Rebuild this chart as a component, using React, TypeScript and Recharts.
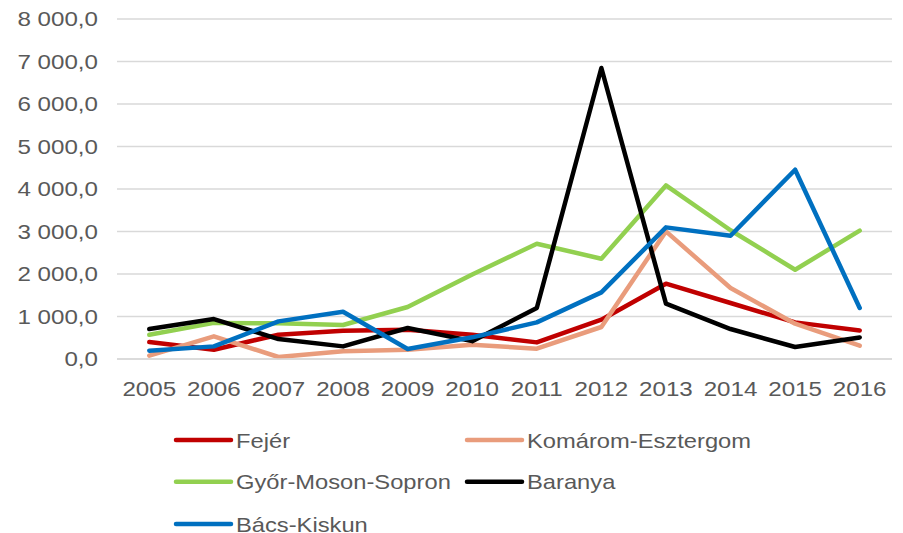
import React from "react";
import { LineChart, Line, XAxis, YAxis, CartesianGrid, Legend } from "recharts";

const years = ["2005", "2006", "2007", "2008", "2009", "2010", "2011", "2012", "2013", "2014", "2015", "2016"];
const fejer = [400, 219, 572, 665, 690, 572, 391, 925, 1772, 1318, 862, 673];
const komarom = [78, 533, 47, 180, 219, 337, 242, 753, 3003, 1670, 830, 313];
const gyor = [570, 850, 840, 800, 1223, 1990, 2713, 2360, 4085, 3030, 2101, 3019];
const baranya = [705, 940, 470, 297, 730, 420, 1200, 6847, 1301, 705, 282, 508];
const bacs = [195, 297, 885, 1113, 235, 510, 862, 1567, 3097, 2901, 4454, 1200];
const yTicks = [0, 1000, 2000, 3000, 4000, 5000, 6000, 7000, 8000];

const seriesNames = ["Fejér", "Komárom-Esztergom", "Győr-Moson-Sopron", "Baranya", "Bács-Kiskun"];
const seriesKeys = ["fejer", "komarom", "gyor", "baranya", "bacs"];
const seriesColors = ["#C00000", "#E99C7C", "#92D050", "#000000", "#0070C0"];
const seriesValues = [fejer, komarom, gyor, baranya, bacs];

const data = years.map((y, i) => {
  const row: any = { year: y };
  seriesKeys.forEach((k, s) => {
    row[k] = seriesValues[s][i];
  });
  return row;
});

const FONT = "'Liberation Sans', Arial, sans-serif";
const TEXT = "#595959";

const fmt = (v: number) => {
  const s = Math.round(v).toString().replace(/\B(?=(\d{3})+(?!\d))/g, " ");
  return s + ",0";
};

const XTick = (props: any) => {
  const { x, y, payload } = props;
  return (
    <g transform={`translate(${x},${y})`}>
      <text transform="scale(1.15,1)" x={0} y={0} dy="0.71em" textAnchor="middle" fontSize={21} fontFamily={FONT} fill={TEXT}>
        {payload.value}
      </text>
    </g>
  );
};

const YTick = (props: any) => {
  const { x, y, payload } = props;
  return (
    <g transform={`translate(${x},${y})`}>
      <text transform="scale(1.15,1)" x={0} y={0} dy="0.355em" textAnchor="end" fontSize={21} fontFamily={FONT} fill={TEXT}>
        {fmt(payload.value)}
      </text>
    </g>
  );
};

const LegendContent = () => {
  const rowY = [20, 61.7, 104];
  const colX = [176, 467];
  return (
    <svg width={903} height={113} style={{ display: "block", overflow: "visible" }}>
      {seriesNames.map((name, i) => {
        const col = i % 2;
        const row = Math.floor(i / 2);
        const lx = colX[col];
        const ly = rowY[row];
        return (
          <g key={i}>
            <line x1={lx} y1={ly} x2={lx + 55} y2={ly} stroke={seriesColors[i]} strokeWidth={4.5} strokeLinecap="round" />
            <g transform={`translate(${lx + 60},${ly})`}>
              <text transform="scale(1.13,1)" x={0} y={0} dy="0.36em" fontSize={21} fontFamily={FONT} fill={TEXT}>
                {name}
              </text>
            </g>
          </g>
        );
      })}
    </svg>
  );
};

export default function App() {
  return (
    <div style={{ position: "absolute", left: 0, top: 0, width: 903, height: 533, background: "#fff" }}>
      <LineChart width={903} height={533} data={data} margin={{ top: 19, right: 11, bottom: 134, left: 0 }}>
        <CartesianGrid vertical={false} stroke="#D9D9D9" strokeWidth={1.3} />
        <XAxis
          dataKey="year"
          axisLine={{ stroke: "#D9D9D9", strokeWidth: 1.3 }}
          tickLine={false}
          tickSize={0}
          tickMargin={22}
          height={40}
          padding={{ left: 32.3, right: 32.3 }}
          tick={<XTick />}
          interval={0}
        />
        <YAxis
          domain={[0, 8000]}
          ticks={yTicks}
          axisLine={false}
          tickLine={false}
          tickSize={0}
          tickMargin={19}
          width={117}
          tick={<YTick />}
          interval={0}
        />
        <Legend
          layout="horizontal"
          verticalAlign="middle"
          align="center"
          wrapperStyle={{ top: 420, left: 0, width: 903, height: 113 }}
          content={<LegendContent />}
        />
        {seriesKeys.map((k, s) => (
          <Line
            key={k}
            dataKey={k}
            name={seriesNames[s]}
            stroke={seriesColors[s]}
            strokeWidth={4.5}
            dot={false}
            activeDot={false}
            strokeLinejoin="round"
            strokeLinecap="round"
            isAnimationActive={false}
          />
        ))}
      </LineChart>
    </div>
  );
}
